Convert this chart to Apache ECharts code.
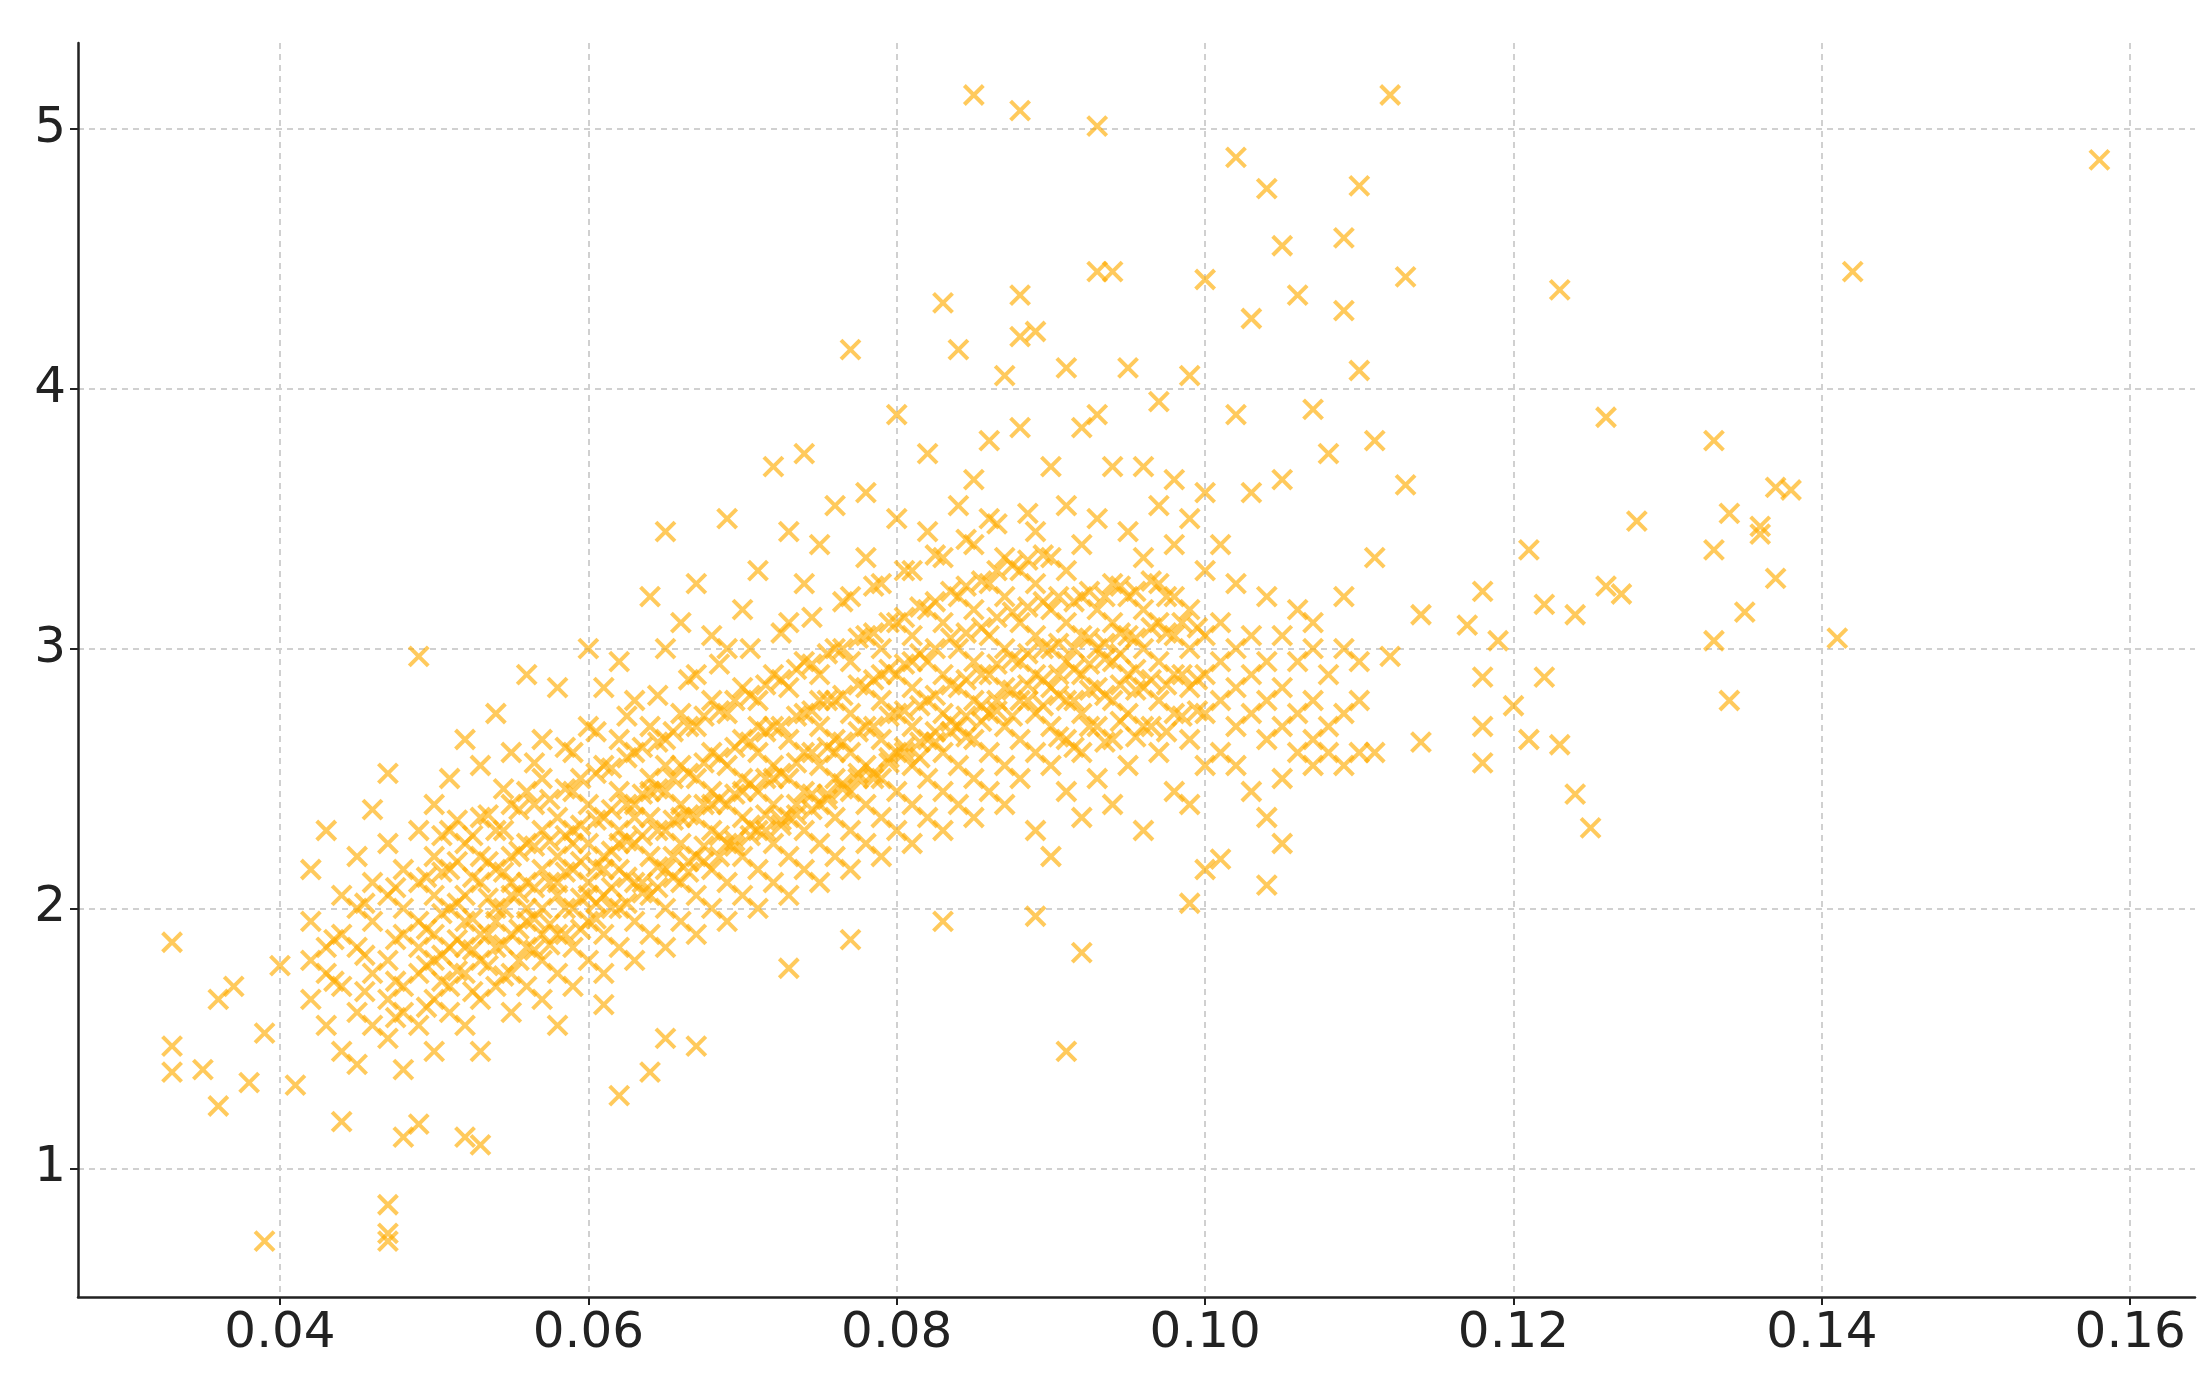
<!DOCTYPE html>
<html><head><meta charset="utf-8">
<script src="https://cdn.jsdelivr.net/npm/echarts@6/dist/echarts.min.js"></script>
<style>html,body{margin:0;background:#fff}#c{width:2212px;height:1380px}</style>
</head><body><div id="c"></div>
<script>
const outliers = [[0.033,1.87],[0.033,1.47],[0.033,1.37],[0.035,1.38],[0.036,1.24],[0.036,1.65],[0.037,1.70],[0.038,1.33],[0.039,0.72],[0.039,1.52],[0.040,1.78],[0.041,1.32],[0.044,1.18],[0.047,0.86],[0.047,0.72],[0.047,0.75],[0.048,1.12],[0.049,1.17],[0.049,2.97],[0.052,1.12],[0.053,1.09],[0.062,1.28],[0.064,1.37],[0.085,5.13],[0.088,5.07],[0.093,5.01],[0.112,5.13],[0.158,4.88],[0.102,4.89],[0.104,4.77],[0.110,4.78],[0.109,4.58],[0.105,4.55],[0.106,4.36],[0.093,4.45],[0.094,4.45],[0.088,4.36],[0.113,4.43],[0.123,4.38],[0.142,4.45],[0.109,4.30],[0.100,4.42],[0.103,4.27],[0.110,4.07],[0.126,3.89],[0.133,3.80],[0.113,3.63],[0.137,3.62],[0.138,3.61],[0.134,3.52],[0.136,3.47],[0.136,3.44],[0.128,3.49],[0.121,3.38],[0.133,3.38],[0.137,3.27],[0.126,3.24],[0.127,3.21],[0.118,3.22],[0.122,3.17],[0.124,3.13],[0.135,3.14],[0.141,3.04],[0.133,3.03],[0.117,3.09],[0.119,3.03],[0.118,2.89],[0.122,2.89],[0.134,2.80],[0.120,2.78],[0.118,2.70],[0.121,2.65],[0.123,2.63],[0.118,2.56],[0.124,2.44],[0.125,2.31],[0.114,2.64],[0.091,1.45],[0.092,1.83],[0.089,1.97],[0.099,2.02],[0.104,2.09],[0.101,2.19],[0.083,1.95],[0.077,1.88],[0.073,1.77],[0.065,1.50],[0.067,1.47],[0.061,1.63],[0.111,3.80],[0.111,3.35],[0.114,3.13],[0.112,2.97],[0.111,2.60],[0.108,3.75],[0.107,3.92],[0.102,3.90]];
const clusterX = [0.042,0.043,0.044,0.045,0.046,0.047,0.048,0.049,0.050,0.051,0.052,0.053,0.054,0.055,0.056,0.057,0.058,0.059,0.060,0.061,0.062,0.063,0.064,0.065,0.066,0.067,0.068,0.069,0.070,0.071,0.072,0.073,0.074,0.075,0.076,0.077,0.078,0.079,0.080,0.081,0.082,0.083,0.084,0.085,0.086,0.087,0.088,0.089,0.090,0.091,0.092,0.093,0.094,0.095,0.096,0.097,0.098,0.099,0.100,0.101,0.102,0.103,0.104,0.105,0.106,0.107,0.108,0.109,0.110];
const clusterY = [
[1.65,1.80,1.95,2.15],[1.55,1.75,1.85,2.30],[1.70,1.90,2.05,1.45],[1.60,1.85,2.00,2.20,1.40],[1.75,1.95,2.10,1.55,2.38],
[1.65,1.80,2.05,2.25,1.50,2.52],[1.70,1.90,2.00,2.15,1.60,1.38],[1.75,1.95,2.10,2.30,1.55,1.85],[1.80,1.90,2.05,2.20,1.65,2.40,1.45],
[1.70,1.85,2.00,2.15,2.30,1.60,2.50],[1.75,1.95,2.05,2.25,1.55,2.65,1.85],[1.80,1.90,2.10,2.20,2.35,1.65,2.55,1.45],[1.85,2.00,2.15,2.30,1.70,2.75,1.95],
[1.75,1.90,2.05,2.20,2.40,1.60,2.60,2.10],[1.85,1.95,2.10,2.25,2.45,1.70,2.90,2.00],[1.80,2.00,2.15,2.30,2.50,1.65,2.65,1.90],[1.90,2.05,2.20,2.35,1.75,2.85,2.10,1.55],
[1.85,2.00,2.15,2.30,2.45,1.70,2.60,2.25],[1.95,2.10,2.25,2.40,1.80,2.70,3.00,2.05],[1.90,2.05,2.20,2.35,2.55,1.75,2.85,2.15],[2.00,2.15,2.30,2.45,1.85,2.65,2.95,2.25],
[1.95,2.10,2.25,2.40,2.60,1.80,2.80,2.35],[2.05,2.20,2.35,2.50,1.90,2.70,3.20,2.45],[2.00,2.15,2.30,2.45,2.65,1.85,3.45,2.55,3.00],[2.10,2.25,2.40,2.55,1.95,2.75,3.10,2.35],
[2.05,2.20,2.35,2.50,2.70,1.90,2.90,3.25],[2.15,2.30,2.45,2.60,2.00,2.80,3.05,2.40],[2.10,2.25,2.40,2.55,2.75,1.95,3.00,3.50],[2.20,2.35,2.50,2.65,2.05,2.85,3.15,2.45],
[2.15,2.30,2.45,2.60,2.80,2.00,3.30,2.70],[2.25,2.40,2.55,2.70,2.10,2.90,3.70,2.50],[2.20,2.35,2.50,2.65,2.85,2.05,3.10,3.45],[2.30,2.45,2.60,2.75,2.15,2.95,3.25,3.75],
[2.25,2.40,2.55,2.70,2.90,2.10,3.40,2.80],[2.35,2.50,2.65,2.80,2.20,3.00,3.55,2.60],[2.30,2.45,2.60,2.75,2.95,2.15,3.20,4.15],[2.40,2.55,2.70,2.85,2.25,3.05,3.60,3.35],
[2.35,2.50,2.65,2.80,3.00,2.20,3.25,2.90],[2.45,2.60,2.75,2.90,2.30,3.10,3.50,3.90],[2.40,2.55,2.70,2.85,3.05,2.25,3.30,2.95],[2.50,2.65,2.80,2.95,2.35,3.15,3.45,3.75],
[2.45,2.60,2.75,2.90,3.10,2.30,3.35,4.33],[2.55,2.70,2.85,3.00,2.40,3.20,3.55,4.15],[2.50,2.65,2.80,2.95,3.15,2.35,3.40,3.65],[2.60,2.75,2.90,3.05,2.45,3.25,3.50,3.80],
[2.55,2.70,2.85,3.00,3.20,2.40,3.35,4.05],[2.65,2.80,2.95,3.10,2.50,3.30,3.85,4.20],[2.60,2.75,2.90,3.05,3.25,2.30,3.45,4.22],[2.70,2.85,3.00,3.15,2.55,3.35,3.70,2.20],
[2.65,2.80,2.95,3.10,3.30,2.45,4.08,3.55],[2.75,2.90,3.05,3.20,2.60,3.40,3.85,2.35],[2.70,2.85,3.00,3.15,2.50,3.50,3.90],[2.80,2.95,3.10,3.25,2.65,3.70,2.40],
[2.75,2.90,3.05,3.20,2.55,3.45,4.08],[2.85,3.00,3.15,3.35,2.70,3.70,2.30],[2.80,2.95,3.10,3.25,2.60,3.55,3.95],[2.90,3.05,3.20,2.45,2.75,3.40,3.65],
[2.85,3.00,3.15,2.65,3.50,4.05,2.40],[2.75,2.90,3.05,3.30,2.55,3.60,2.15],[2.80,2.95,3.10,2.60,3.40],[2.70,2.85,3.00,3.25,2.55],
[2.75,2.90,3.05,3.60,2.45],[2.65,2.80,2.95,3.20,2.35],[2.70,2.85,3.05,3.65,2.50,2.25],[2.60,2.75,2.95,3.15],[2.65,2.80,3.00,3.10,2.55],
[2.70,2.90,2.60],[2.75,3.00,2.55,3.20],[2.80,2.95,2.60]];
const clusterX2 = [0.0435,0.0455,0.0475,0.0495,0.0505,0.0515,0.0525,0.0535,0.0545,0.0555,0.0565,0.0575,0.0585,0.0595,0.0605,0.0615,0.0625,0.0635,0.0645,0.0655,0.0665,0.0675,0.0685,0.0695,0.0705,0.0715,0.0725,0.0735,0.0745,0.0755,0.0765,0.0775,0.0785,0.0795,0.0805,0.0815,0.0825,0.0835,0.0845,0.0855,0.0865,0.0875,0.0885,0.0895,0.0905,0.0915,0.0925,0.0935,0.0945,0.0955,0.0965,0.0975,0.0985,0.0995];
const clusterY2 = [
[1.72,1.88],[1.68,1.82,2.02],[1.72,1.88,2.08,1.58],[1.78,1.92,2.12,1.62],[1.82,1.98,2.14,1.72,2.28],[1.88,2.02,2.18,1.76,2.34],[1.84,1.96,2.12,2.28,1.68],[1.90,2.04,2.18,2.36,1.78],
[1.86,2.00,2.14,2.30,1.74,2.46],[1.92,2.06,2.22,2.38,1.80],[1.96,2.08,2.24,2.40,1.84,2.56],[1.94,2.10,2.26,2.42,1.86],[2.00,2.14,2.28,2.46,1.90,2.62],[2.04,2.18,2.32,2.50,1.92],
[2.02,2.16,2.34,2.52,1.96,2.68],[2.08,2.22,2.38,2.54,2.00],[2.12,2.26,2.40,2.58,2.02,2.74],[2.10,2.28,2.44,2.62,2.06],[2.16,2.30,2.46,2.64,2.08,2.82],[2.20,2.34,2.50,2.68,2.12],
[2.18,2.36,2.52,2.70,2.14,2.88],[2.24,2.40,2.56,2.74,2.18],[2.28,2.42,2.58,2.76,2.20,2.94],[2.26,2.44,2.62,2.80,2.24],[2.32,2.48,2.64,2.82,2.28,3.00],[2.36,2.50,2.68,2.86,2.30],
[2.34,2.52,2.70,2.88,2.32,3.06],[2.40,2.56,2.74,2.92,2.36],[2.44,2.60,2.76,2.94,2.38,3.12],[2.42,2.62,2.80,2.98,2.44],[2.48,2.64,2.82,3.00,2.46,3.18],[2.52,2.68,2.86,3.04,2.50],
[2.50,2.70,2.88,3.06,2.52,3.24],[2.56,2.74,2.92,3.10,2.58],[2.60,2.76,2.94,3.12,2.62,3.30],[2.58,2.78,2.98,3.16,2.64],[2.64,2.82,3.00,3.18,2.68,3.36],[2.68,2.86,3.04,3.22,2.72],
[2.66,2.88,3.06,3.24,2.74,3.42],[2.72,2.90,3.08,3.26,2.78],[2.76,2.94,3.12,3.30,2.80,3.48],[2.74,2.96,3.14,3.32,2.84],[2.80,2.98,3.16,3.34,2.86,3.52],[2.78,3.00,3.18,3.36,2.88],
[2.82,3.02,3.20,2.90,2.66],[2.80,3.00,3.18,2.92,2.62],[2.84,3.04,3.22,2.94,2.70],[2.82,3.02,3.20,2.96,2.64],[2.86,3.06,3.24,2.98,2.72],[2.84,3.04,3.22,2.92,2.66],
[2.88,3.08,3.26,2.70],[2.86,3.06,3.20,2.68],[2.90,3.10,2.74],[2.88,3.08,2.76]];
const xTicks = [0.04,0.06,0.08,0.10,0.12,0.14,0.16];
const yTicks = [1,2,3,4,5];

const points = outliers.slice();
clusterX.forEach((x,i)=>clusterY[i].forEach(y=>points.push([x,y])));
clusterX2.forEach((x,i)=>clusterY2[i].forEach(y=>points.push([x,y])));

const chart = echarts.init(document.getElementById('c'));
const lab = {fontSize:50, color:'#222', fontFamily:'DejaVu Sans'};
const split = {show:true, lineStyle:{color:'#d0d0d0', type:[6,5], width:2}};
chart.setOption({
  animation:false,
  grid:{left:78, right:17, top:43, bottom:83},
  xAxis:{type:'value', min:0.0269, max:0.1642,
    axisLine:{lineStyle:{color:'#222', width:2.5}},
    axisTick:{show:true, length:8, lineStyle:{color:'#222', width:2}, customValues:xTicks},
    axisLabel:Object.assign({margin:12, customValues:xTicks, formatter:v=>v.toFixed(2)}, lab),
    splitLine:split},
  yAxis:{type:'value', min:0.505, max:5.33,
    axisLine:{show:true, lineStyle:{color:'#222', width:2.5}},
    axisTick:{show:true, length:8, lineStyle:{color:'#222', width:2}, customValues:yTicks},
    axisLabel:Object.assign({margin:12, customValues:yTicks, formatter:v=>String(v)}, lab),
    splitLine:split},
  series:[{type:'scatter', data:points,
    symbol:'path://M0,0L10,10M10,0L0,10', symbolSize:19,
    itemStyle:{color:'rgba(0,0,0,0)', borderColor:'rgba(255,172,0,0.8)', borderWidth:4}}]
});
</script></body></html>
